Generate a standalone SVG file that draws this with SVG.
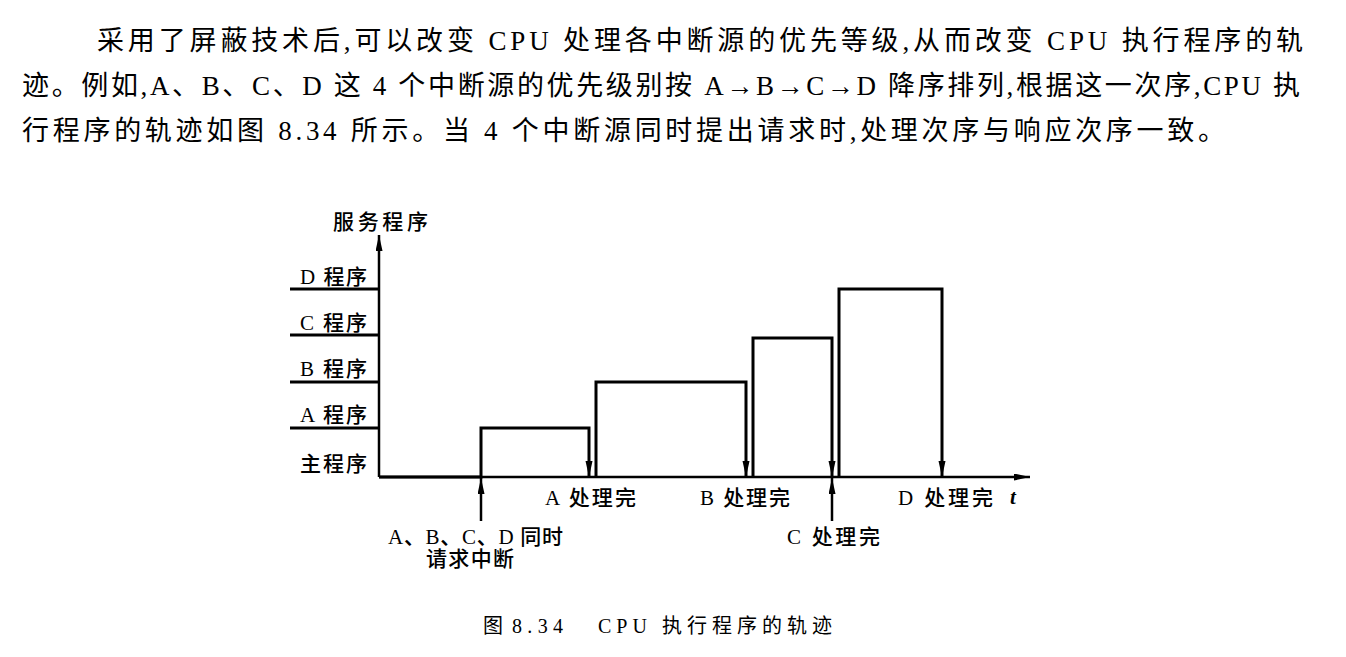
<svg xmlns="http://www.w3.org/2000/svg" width="1346" height="657" viewBox="0 0 1346 657">
<style>
.p{font-family:"Liberation Serif","Noto Sans CJK SC",serif;font-size:27px;fill:#000}
.l{font-family:"Liberation Serif","Noto Sans CJK SC",serif;font-size:21px;font-weight:500;fill:#000}
.ln{fill:none;stroke:#000;stroke-width:3;stroke-linejoin:miter}
.ax{fill:none;stroke:#000;stroke-width:2.5}
</style>
<defs>
<marker id="ah" markerUnits="userSpaceOnUse" markerWidth="18" markerHeight="8" refX="16" refY="3.5" orient="auto">
<path d="M0,0 L16,3.5 L0,7 z" fill="#000"/>
</marker>
</defs>
<rect width="1346" height="657" fill="#fff"/>
<g id="paragraph">
<text class="p" x="97" y="50" textLength="1206" lengthAdjust="spacing">采用了屏蔽技术后,可以改变 CPU 处理各中断源的优先等级,从而改变 CPU 执行程序的轨</text>
<text class="p" x="22" y="95" textLength="1278" lengthAdjust="spacing">迹。例如,A、B、C、D 这 4 个中断源的优先级别按 A→B→C→D 降序排列,根据这一次序,CPU 执</text>
<text class="p" x="22" y="140" textLength="1203" lengthAdjust="spacing">行程序的轨迹如图 8.34 所示。当 4 个中断源同时提出请求时,处理次序与响应次序一致。</text>
</g>
<g id="axes">
<path class="ax" d="M379,477 V235" marker-end="url(#ah)"/>
<path class="ax" d="M379,477 H1030" marker-end="url(#ah)"/>
<path class="ln" d="M290,289 H379 M290,335 H379 M290,382 H379 M290,428 H379"/>
</g>
<g id="axis-labels">
<text class="l" x="333" y="229" textLength="95" lengthAdjust="spacing">服务程序</text>
<text class="l" x="300" y="284" textLength="67" lengthAdjust="spacing">D 程序</text>
<text class="l" x="300" y="330" textLength="67" lengthAdjust="spacing">C 程序</text>
<text class="l" x="300" y="376" textLength="67" lengthAdjust="spacing">B 程序</text>
<text class="l" x="300" y="422" textLength="67" lengthAdjust="spacing">A 程序</text>
<text class="l" x="300" y="471" textLength="67" lengthAdjust="spacing">主程序</text>
<text x="1010" y="504" style="font-family:'Liberation Serif',serif;font-size:21px;font-style:italic;font-weight:bold;fill:#000">t</text>
</g>
<g id="connectors">
<path class="ln" d="M379,477 H481 V428 H589 V477" marker-end="url(#ah)"/>
<path class="ln" d="M596,477 V382 H746 V477" marker-end="url(#ah)"/>
<path class="ln" d="M753,477 V338 H832 V477" marker-end="url(#ah)"/>
<path class="ln" d="M839,477 V289 H942 V477" marker-end="url(#ah)"/>
<path class="ax" d="M481,521 V478" marker-end="url(#ah)"/>
<path class="ax" d="M832,521 V478" marker-end="url(#ah)"/>
</g>
<g id="event-labels">
<text class="l" x="545" y="505" textLength="91" lengthAdjust="spacing">A 处理完</text>
<text class="l" x="700" y="505" textLength="90" lengthAdjust="spacing">B 处理完</text>
<text class="l" x="898" y="505" textLength="95" lengthAdjust="spacing">D 处理完</text>
<text class="l" x="787" y="544" textLength="93" lengthAdjust="spacing">C 处理完</text>
<text class="l" x="388" y="544" textLength="175" lengthAdjust="spacing">A、B、C、D 同时</text>
<text class="l" x="426" y="566" textLength="88" lengthAdjust="spacing">请求中断</text>
</g>
<g id="caption" style="font-family:'Liberation Serif','Noto Sans CJK SC',serif;font-size:20px;fill:#000">
<text x="483" y="633">图</text>
<text x="512" y="633" textLength="51" lengthAdjust="spacing">8.34</text>
<text x="598" y="633" textLength="234" lengthAdjust="spacing">CPU 执行程序的轨迹</text>
</g>
</svg>
